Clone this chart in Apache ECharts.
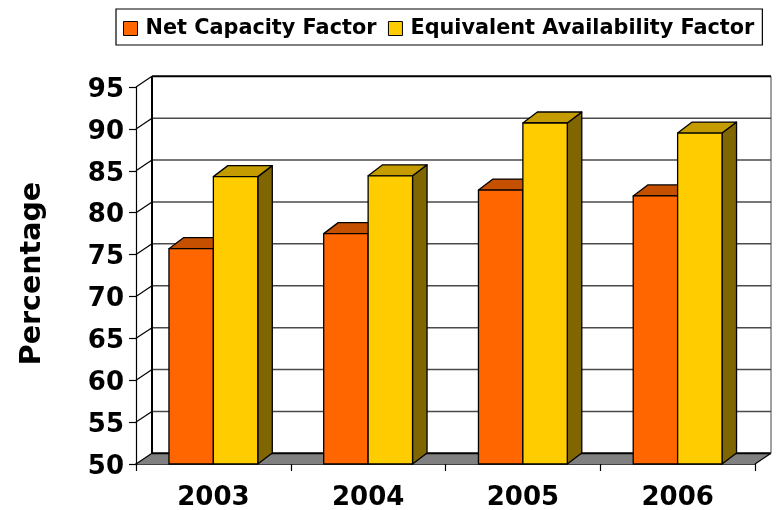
<!DOCTYPE html>
<html>
<head>
<meta charset="utf-8">
<style>html,body{margin:0;padding:0;background:#fff}#c{width:776px;height:510px}</style>
<script src="https://cdn.jsdelivr.net/npm/echarts@6/dist/echarts.min.js"></script>
</head>
<body>
<div id="c"></div>
<script>
const categories = ['2003', '2004', '2005', '2006'];
const netCapacity = [75.7, 77.5, 82.7, 82.0];
const equivAvailability = [84.3, 84.4, 90.7, 89.5];
const yTicks = [50, 55, 60, 65, 70, 75, 80, 85, 90, 95];

const FONT = '"DejaVu Sans"';
const WALL_DX = 16, WALL_DY = 10.7, BAR_DX = 14.5, BAR_DY = 11, BAR_FRACTION = 0.287;

function wallItem(params, api) {
  const v = api.value(1);
  const p = api.coord([0, v]);
  const half = api.size([1, 0])[0] / 2;
  const x0 = p[0] - half;
  const x1 = x0 + half * 2 * categories.length;
  const y = p[1];
  const bx0 = x0 + WALL_DX, bx1 = x1 + WALL_DX, by = y - WALL_DY;
  const kids = [];
  if (v === yTicks[0]) {
    kids.push({type: 'polygon', shape: {points: [[x0, y], [bx0, by], [bx1, by], [x1, y]]},
      style: {fill: '#808080', stroke: null}});
    kids.push({type: 'line', shape: {x1: x1, y1: y, x2: bx1, y2: by}, style: {stroke: '#000', lineWidth: 1.2}});
  }
  if (v === yTicks[yTicks.length - 1]) {
    const bottom = api.coord([0, yTicks[0]])[1] - WALL_DY;
    kids.push({type: 'line', shape: {x1: bx0, y1: by, x2: bx0, y2: bottom}, style: {stroke: '#000', lineWidth: 2}});
    kids.push({type: 'line', shape: {x1: bx1, y1: by, x2: bx1, y2: bottom}, style: {stroke: '#444', lineWidth: 1}});
  }
  const isEdge = v === yTicks[0] || v === yTicks[yTicks.length - 1];
  kids.push({type: 'line', shape: {x1: bx0, y1: by, x2: bx1, y2: by},
    style: {stroke: isEdge ? '#000' : '#4a4a4a', lineWidth: isEdge ? 2 : 1.5}});
  kids.push({type: 'line', shape: {x1: x0, y1: y, x2: bx0, y2: by}, style: {stroke: '#000', lineWidth: 1.2}});
  return {type: 'group', children: kids};
}

function barRenderer(side, front, top, right) {
  return function (params, api) {
    const c = api.coord([api.value(0), api.value(1)]);
    const base = api.coord([api.value(0), yTicks[0]])[1];
    const w = api.size([1, 0])[0] * BAR_FRACTION;
    const x0 = side < 0 ? c[0] - w : c[0];
    const x1 = x0 + w, y = c[1];
    const st = f => ({fill: f, stroke: '#000', lineWidth: 1.3, lineJoin: 'round'});
    return {type: 'group', children: [
      {type: 'polygon', shape: {points: [[x1, y], [x1 + BAR_DX, y - BAR_DY], [x1 + BAR_DX, base - BAR_DY], [x1, base]]}, style: st(right)},
      {type: 'polygon', shape: {points: [[x0, y], [x0 + BAR_DX, y - BAR_DY], [x1 + BAR_DX, y - BAR_DY], [x1, y]]}, style: st(top)},
      {type: 'rect', shape: {x: x0, y: y, width: w, height: base - y}, style: st(front)}
    ]};
  };
}

const chart = echarts.init(document.getElementById('c'), null, {renderer: 'canvas'});
chart.setOption({
  animation: false,
  backgroundColor: '#fff',
  legend: {
    data: ['Net Capacity Factor', 'Equivalent Availability Factor'],
    left: 116, top: 9,
    selectedMode: false,
    icon: 'rect',
    itemWidth: 14, itemHeight: 14, itemGap: 11.5,
    padding: [9, 8, 6, 7],
    borderColor: '#000', borderWidth: 1.2,
    itemStyle: {borderColor: '#000', borderWidth: 1},
    textStyle: {fontFamily: FONT, fontWeight: 'bold', fontSize: 20.8, color: '#000', padding: [0, 0, 0, 3]}
  },
  grid: {left: 136, right: 21, top: 87, bottom: 46, containLabel: false, outerBoundsMode: 'none'},
  xAxis: {
    type: 'category',
    data: categories,
    axisLine: {lineStyle: {color: '#000', width: 1.7}},
    axisTick: {show: true, length: 7, lineStyle: {color: '#000', width: 1.2}},
    axisLabel: {fontFamily: FONT, fontWeight: 'bold', fontSize: 26, color: '#000', margin: 21, hideOverlap: false},
    splitLine: {show: false}
  },
  yAxis: {
    type: 'value',
    min: 50, max: 95, interval: 5,
    name: 'Percentage',
    nameLocation: 'middle',
    nameGap: 89,
    nameTextStyle: {fontFamily: FONT, fontWeight: 'bold', fontSize: 28.5, color: '#000', padding: [0, 0, 0, 4]},
    axisLine: {show: true, lineStyle: {color: '#000', width: 1.2}},
    axisTick: {show: true, length: 7, lineStyle: {color: '#000', width: 1.2}},
    axisLabel: {
      margin: 12, formatter: '{t|{value}}',
      rich: {t: {fontFamily: FONT, fontWeight: 'bold', fontSize: 26, color: '#000', padding: [6, 0, 0, 0]}}
    },
    splitLine: {show: false}
  },
  series: [
    {type: 'custom', name: 'walls', silent: true, clip: false, renderItem: wallItem,
      data: yTicks.map(t => [0, t]), encode: {x: 0, y: 1}},
    {type: 'custom', name: 'Net Capacity Factor', silent: true, clip: false,
      itemStyle: {color: '#FF6600'},
      renderItem: barRenderer(-1, '#FF6600', '#C45000', '#803300'),
      data: netCapacity.map((v, i) => [i, v]), encode: {x: 0, y: 1}},
    {type: 'custom', name: 'Equivalent Availability Factor', silent: true, clip: false,
      itemStyle: {color: '#FFCC00'},
      renderItem: barRenderer(1, '#FFCC00', '#C49C00', '#806600'),
      data: equivAvailability.map((v, i) => [i, v]), encode: {x: 0, y: 1}}
  ]
});
</script>
</body>
</html>
